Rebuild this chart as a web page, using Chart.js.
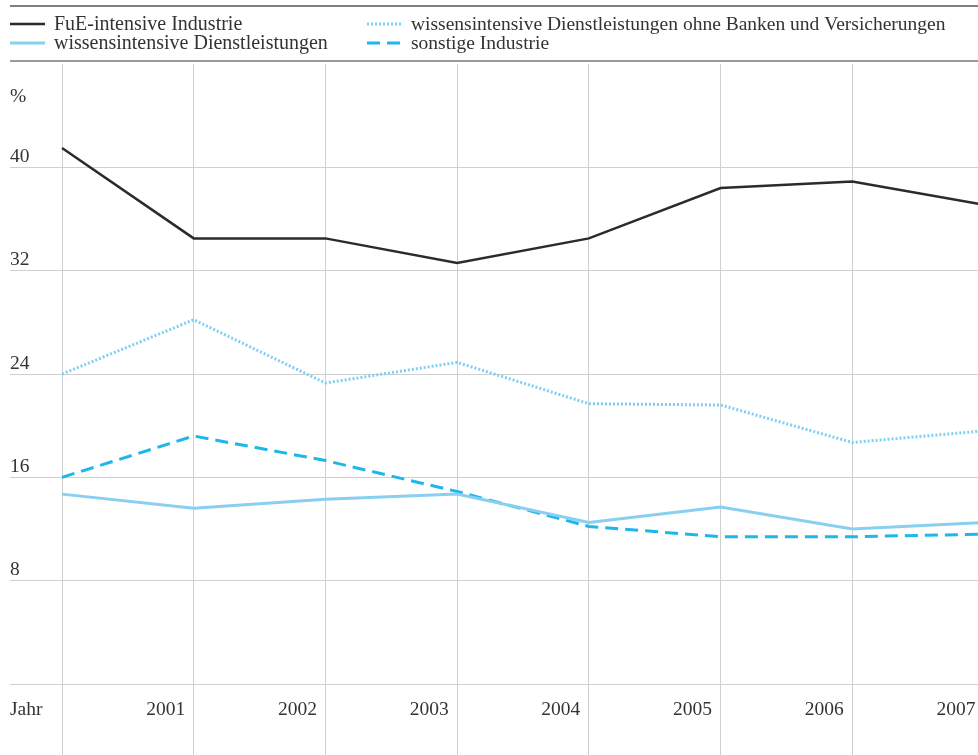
<!DOCTYPE html>
<html lang="de">
<head>
    <meta charset="UTF-8">
    <title>FuE-intensive Industrie</title>
    <style>
        html, body { margin: 0; background: #fff; overflow: hidden; }
        canvas { display: block; }
    </style>
</head>
<body>
    <script src="https://cdn.jsdelivr.net/npm/chart.js@4.4.0/dist/chart.umd.min.js"></script>
    <!-- etwas breiter als das Fenster: 2007 liegt knapp rechts vom Bildrand -->
    <canvas id="chart" width="984" height="755"></canvas>
    <script>
        // Werte
        var years = [2000, 2001, 2002, 2003, 2004, 2005, 2006, 2007];
        var fueIndustrie = [41.5, 34.5, 34.5, 32.6, 34.5, 38.4, 38.9, 37.1];
        var wissDienst = [14.7, 13.6, 14.3, 14.7, 12.5, 13.7, 12.0, 12.5];
        var wissDienstOhne = [24.0, 28.2, 23.3, 24.9, 21.7, 21.6, 18.7, 19.6];
        var sonstigeIndustrie = [16.0, 19.2, 17.3, 14.9, 12.2, 11.4, 11.4, 11.6];
        var yTicks = [8, 16, 24, 32, 40];

        var font = "'Liberation Serif', 'Times New Roman', serif";
        var textColor = '#333333';
        var gridColor = '#cfcfcf';

        function pts(values) {
            return years.map(function (y, i) { return { x: y, y: values[i] }; });
        }

        var data = {
            datasets: [{
                label: 'FuE-intensive Industrie',
                data: pts(fueIndustrie),
                borderColor: '#2b2b2b',
                borderWidth: 2.5
            }, {
                label: 'wissensintensive Dienstleistungen',
                data: pts(wissDienst),
                borderColor: '#88cff1',
                borderWidth: 3
            }, {
                label: 'wissensintensive Dienstleistungen ohne Banken und Versicherungen',
                data: pts(wissDienstOhne),
                borderColor: '#7fcff5',
                borderWidth: 3,
                borderDash: [2, 2]
            }, {
                label: 'sonstige Industrie',
                data: pts(sonstigeIndustrie),
                borderColor: '#1db7ea',
                borderWidth: 3,
                borderDash: [13, 7]
            }]
        };

        // Legende, Linien oben und Achsentexte selbst zeichnen
        var legendSlots = [[10, 24, 20], [10, 43, 20], [367, 24, 19.5], [367, 43, 19.5]];
        var decor = {
            id: 'decor',
            afterDraw: function (chart) {
                var ctx = chart.ctx;
                ctx.save();
                ctx.strokeStyle = '#555555';
                ctx.lineWidth = 1.5;
                ctx.beginPath(); ctx.moveTo(10, 6); ctx.lineTo(984, 6); ctx.stroke();
                ctx.strokeStyle = '#9a9a9a';
                ctx.lineWidth = 2;
                ctx.beginPath(); ctx.moveTo(10, 61); ctx.lineTo(984, 61); ctx.stroke();

                ctx.fillStyle = textColor;
                ctx.textBaseline = 'alphabetic';
                ctx.textAlign = 'left';
                chart.data.datasets.forEach(function (ds, i) {
                    var s = legendSlots[i];
                    ctx.strokeStyle = ds.borderColor;
                    ctx.lineWidth = ds.borderWidth;
                    ctx.setLineDash(ds.borderDash || []);
                    ctx.beginPath(); ctx.moveTo(s[0], s[1]); ctx.lineTo(s[0] + 35, s[1]); ctx.stroke();
                    ctx.setLineDash([]);
                    ctx.font = s[2] + 'px ' + font;
                    ctx.fillText(ds.label, s[0] + 44, s[1] + 5.5);
                });
                ctx.font = '19.5px ' + font;
                ctx.fillText('%', 10, 102);
                ctx.fillText('Jahr', 10, 715);
                ctx.restore();
            }
        };

        var options = {
            responsive: false,
            animation: false,
            layout: { padding: { top: 64, left: 10, right: 0, bottom: 0 } },
            elements: {
                line: { tension: 0, fill: false },
                point: { radius: 0 }
            },
            scales: {
                x: {
                    type: 'linear',
                    position: 'bottom',
                    min: years[0] - 0.395,
                    max: years[years.length - 1],
                    afterFit: function (scale) { scale.height = 71; },
                    border: { display: false },
                    grid: {
                        color: gridColor,
                        lineWidth: 1,
                        drawTicks: true,
                        tickLength: 71,
                        tickColor: gridColor
                    },
                    ticks: {
                        stepSize: 1,
                        includeBounds: false,
                        autoSkip: false,
                        maxRotation: 0,
                        align: 'end',
                        labelOffset: -8.5,
                        padding: -57,
                        color: textColor,
                        font: { family: font, size: 19.5 },
                        callback: function (value) {
                            return value === years[0] ? '' : String(value);
                        }
                    }
                },
                y: {
                    min: 0,
                    max: 48,
                    afterFit: function (scale) { scale.width = 0; },
                    border: { display: false },
                    grid: {
                        drawTicks: false,
                        lineWidth: 1,
                        color: function (c) {
                            return c.tick && c.tick.value === 48 ? 'rgba(0,0,0,0)' : gridColor;
                        }
                    },
                    ticks: {
                        stepSize: 8,
                        mirror: true,
                        padding: 0,
                        labelOffset: -10.5,
                        color: textColor,
                        font: { family: font, size: 19.5 },
                        callback: function (value) {
                            return yTicks.indexOf(value) >= 0 ? String(value) : '';
                        }
                    }
                }
            },
            plugins: {
                legend: { display: false },
                title: { display: false },
                tooltip: { enabled: false }
            }
        };

        window.onload = function () {
            var ctx = document.getElementById('chart').getContext('2d');
            window.lineChart = new Chart(ctx, {
                type: 'line',
                data: data,
                options: options,
                plugins: [decor]
            });
        };
    </script>
</body>
</html>
